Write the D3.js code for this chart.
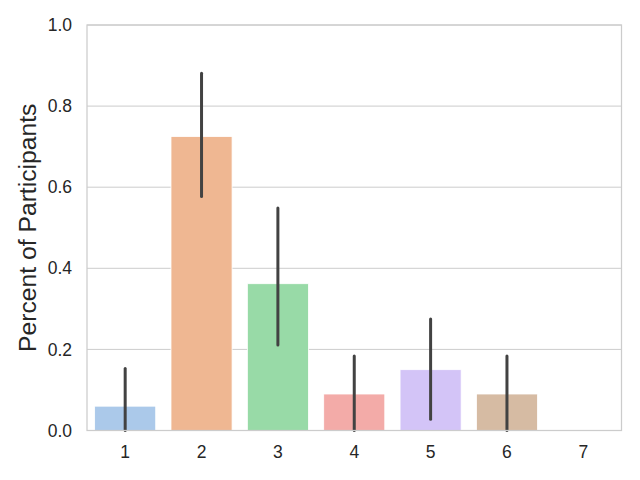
<!DOCTYPE html>
<html><head><meta charset="utf-8">
<script src="https://cdn.jsdelivr.net/npm/d3@7"></script>
<style>body{margin:0;background:#fff}svg{display:block}</style>
</head><body>
<script>
const categories = ["1","2","3","4","5","6","7"];
const values = [0.06, 0.725, 0.362, 0.09, 0.15, 0.09, 0];
const ciLow  = [0.0, 0.577, 0.211, 0.0, 0.028, 0.0, 0];
const ciHigh = [0.153, 0.881, 0.549, 0.184, 0.275, 0.184, 0];
const colors = ["#abc9ea","#efb792","#98daa7","#f3aba8","#d3c4f7","#d6bba3","#f2b5e0"];
const yTicks = [0,0.2,0.4,0.6,0.8,1.0];
const yLabel = "Percent of Participants";

const W=640,H=480, L=87, R=621.5, T=25, B=430.5;
const svg=d3.select("body").append("svg").attr("width",W).attr("height",H);
const x=d3.scaleBand().domain(categories).range([L,R]).paddingInner(0.2).paddingOuter(0.1);
const y=d3.scaleLinear().domain([0,1]).range([B,T]);
const font="Liberation Sans, Arial, sans-serif";

// grid
svg.append("g").selectAll("line").data(yTicks).join("line")
  .attr("x1",L).attr("x2",R).attr("y1",d=>y(d)).attr("y2",d=>y(d))
  .attr("stroke","#cccccc").attr("stroke-width",1);

// bars
svg.append("g").selectAll("rect").data(categories).join("rect")
  .attr("x",d=>x(d)).attr("width",x.bandwidth())
  .attr("y",(d,i)=>y(values[i])).attr("height",(d,i)=>y(0)-y(values[i]))
  .attr("fill",(d,i)=>colors[i]).attr("stroke","#fff").attr("stroke-width",0.8)
  .style("display",(d,i)=>values[i]>0?null:"none");

// error bars
svg.append("g").selectAll("line").data(categories).join("line")
  .attr("x1",d=>x(d)+x.bandwidth()/2).attr("x2",d=>x(d)+x.bandwidth()/2)
  .attr("y1",(d,i)=>y(ciLow[i])).attr("y2",(d,i)=>y(ciHigh[i]))
  .attr("stroke","#424242").attr("stroke-width",3).attr("stroke-linecap","round")
  .style("display",(d,i)=>ciHigh[i]>ciLow[i]?null:"none");

// spines
svg.append("rect").attr("x",L).attr("y",T).attr("width",R-L).attr("height",B-T)
  .attr("fill","none").attr("stroke","#cccccc").attr("stroke-width",1.25);

// y ticks
const yAxis=d3.axisLeft(y).tickValues(yTicks).tickFormat(d3.format(".1f")).tickSize(0).tickPadding(15);
const gy=svg.append("g").attr("transform",`translate(${L},0)`).call(yAxis);
gy.select(".domain").remove();
gy.selectAll("text").attr("font-family",font).attr("font-size",17.5).attr("fill","#262626");

// x ticks
const xAxis=d3.axisBottom(x).tickSize(0).tickPadding(15);
const gx=svg.append("g").attr("transform",`translate(0,${B})`).call(xAxis);
gx.select(".domain").remove();
gx.selectAll("text").attr("font-family",font).attr("font-size",17.5).attr("fill","#262626");

// y label
svg.append("text").attr("transform",`translate(36,${(T+B)/2}) rotate(-90)`)
  .attr("text-anchor","middle").attr("font-family",font).attr("font-size",24.7)
  .attr("fill","#262626").text(yLabel);
</script>
</body></html>
